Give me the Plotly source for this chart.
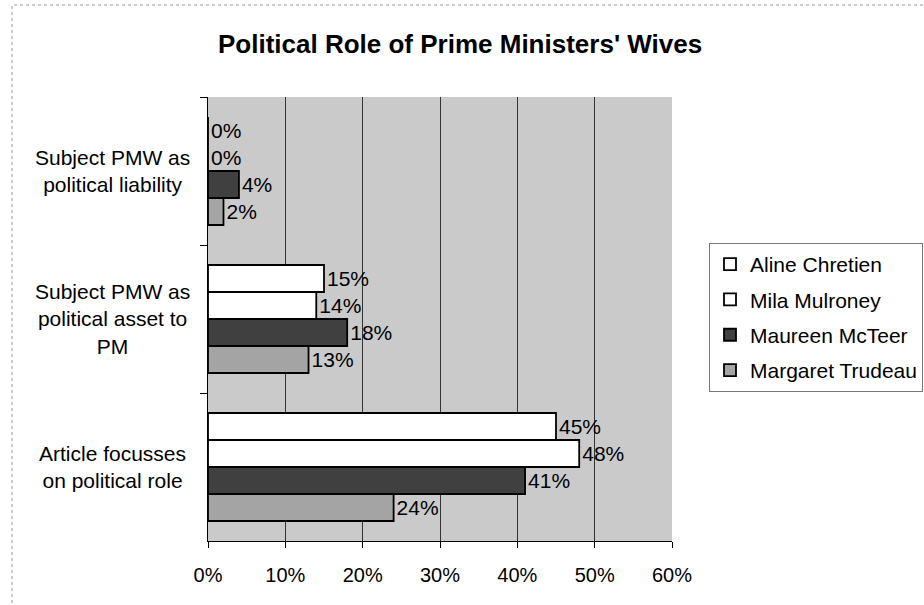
import plotly.graph_objects as go

categories = ["Subject PMW as political liability",
              "Subject PMW as political asset to PM",
              "Article focusses on political role"]
category_labels = ["Subject PMW as<br>political liability",
                   "Subject PMW as<br>political asset to<br>PM",
                   "Article focusses<br>on political role"]
series_names = ["Aline Chretien", "Mila Mulroney", "Maureen McTeer", "Margaret Trudeau"]
aline = [0, 15, 45]
mila = [0, 14, 48]
mcteer = [4, 18, 41]
trudeau = [2, 13, 24]
x_ticks = [0, 10, 20, 30, 40, 50, 60]
x_tick_labels = ["0%", "10%", "20%", "30%", "40%", "50%", "60%"]

series_values = [aline, mila, mcteer, trudeau]
colors = ["#ffffff", "#ffffff", "#404040", "#a4a4a4"]

FONT = "Liberation Sans, Arial, sans-serif"
W, H = 924, 605
L, R, T, B = 208, 672, 97, 541
pw, ph = R - L, B - T

def px_x(p):
    return (p - L) / pw

def px_y(p):
    return (B - p) / ph

fig = go.Figure()
for i, (name, vals) in enumerate(zip(series_names, series_values)):
    fig.add_trace(go.Bar(
        y=categories, x=vals, name=name, orientation="h",
        marker=dict(color=colors[i], line=dict(color="#000000", width=1.8)),
        text=[f"{v}%" for v in vals], textposition="outside",
        textfont=dict(family=FONT, size=21, color="#000000"),
        constraintext="none", cliponaxis=False,
        legendgroup=name,
    ))

for cat, lab in zip(categories, category_labels):
    fig.add_annotation(x=px_x(112), xref="paper", y=cat, yref="y",
                       text=lab, showarrow=False, xanchor="center", yanchor="middle",
                       align="center", font=dict(family=FONT, size=21, color="#000000"))

# outer chart border
fig.add_shape(type="rect", xref="paper", yref="paper",
              x0=px_x(12), x1=px_x(960), y0=px_y(640), y1=px_y(5),
              line=dict(color="#9a9a9a", width=1, dash="dot"), layer="below")

fig.update_layout(
    width=W, height=H,
    margin=dict(l=L, r=W - R, t=T, b=H - B, autoexpand=False),
    paper_bgcolor="#ffffff", plot_bgcolor="#cacaca",
    barmode="group", bargap=0.27, bargroupgap=0,
    showlegend=True,
    title=dict(text="<b>Political Role of Prime Ministers' Wives</b>",
               font=dict(family=FONT, size=26, color="#000000"),
               x=218 / W, xanchor="left", xref="container",
               y=1 - 44 / H, yanchor="middle", yref="container"),
    legend=dict(x=709 / W, y=1 - 243 / H, xref="container", yref="container",
                xanchor="left", yanchor="top",
                font=dict(family=FONT, size=21, color="#000000"),
                bgcolor="#ffffff", bordercolor="#777777", borderwidth=1,
                tracegroupgap=5, itemwidth=30),
    xaxis=dict(range=[0, 60], tickvals=x_ticks, ticktext=x_tick_labels,
               showgrid=True, gridcolor="#333333", gridwidth=1,
               showline=True, linecolor="#000000", linewidth=1,
               ticks="outside", ticklen=6, tickcolor="#000000",
               ticklabelstandoff=10,
               tickfont=dict(family=FONT, size=20, color="#000000"),
               zeroline=False, fixedrange=True),
    yaxis=dict(categoryorder="array", categoryarray=categories,
               autorange="reversed", showticklabels=False,
               showline=True, linecolor="#000000", linewidth=1,
               ticks="outside", ticklen=7, tickcolor="#000000",
               tickson="boundaries", showgrid=False, zeroline=False,
               fixedrange=True),
)

fig.write_html("out.html")
